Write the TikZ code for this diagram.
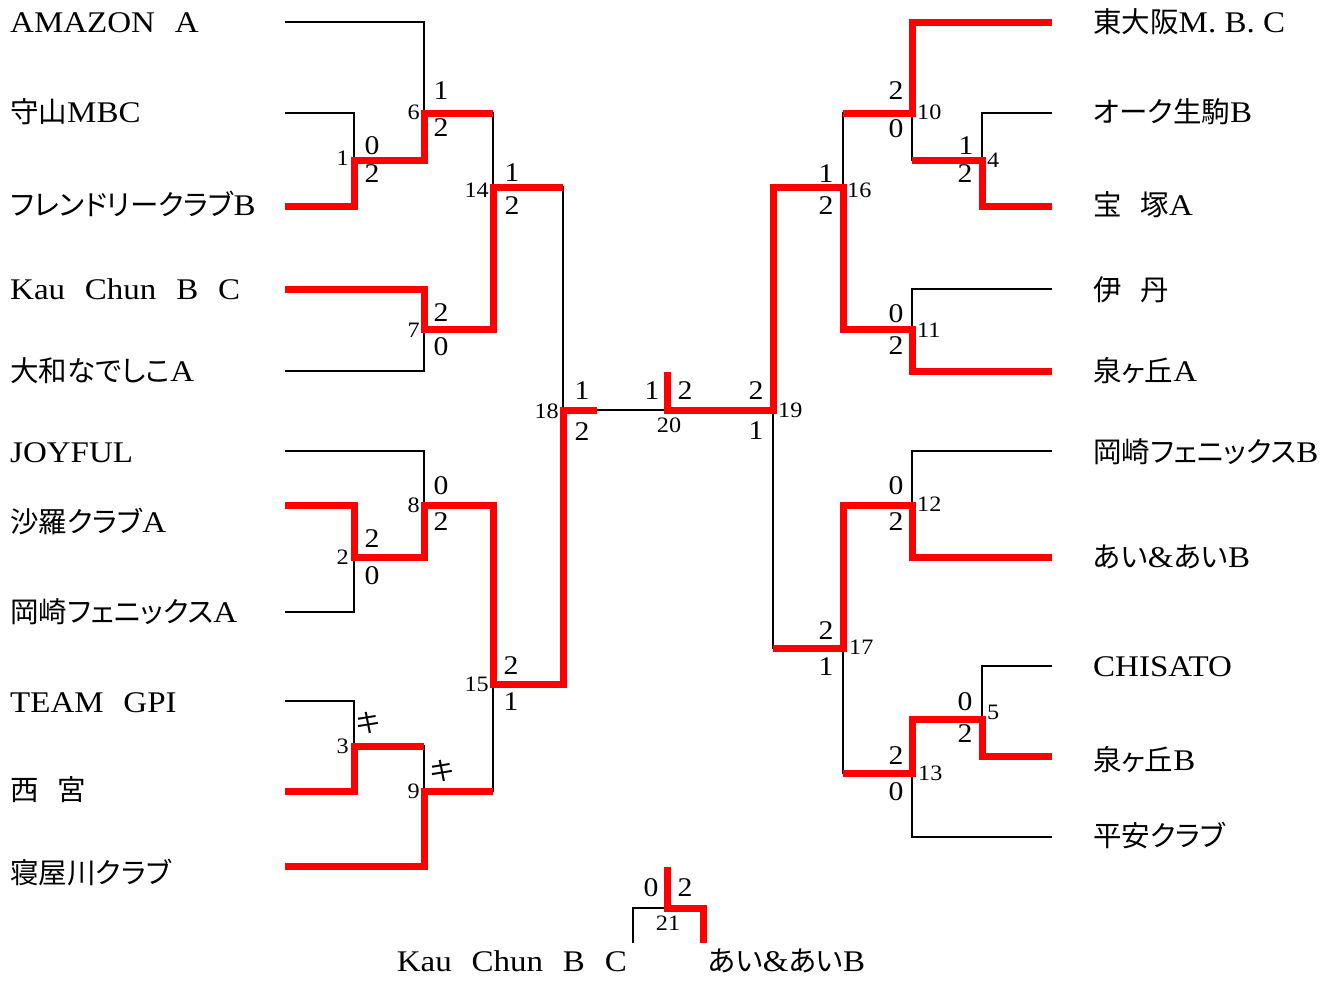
\documentclass[tikz,border=0pt]{standalone}
\usepackage{fontspec}
\setmainfont{Liberation Serif}[FakeStretch=1.1]
\newfontfamily\jp{Noto Sans CJK JP}[Scale=0.95,RawFeature=+palt]
\newcommand{\gp}{\hspace{0.66em}}
\begin{document}
\begin{tikzpicture}[x=1pt,y=-1pt,
  team/.style={font=\fontsize{30}{30}\selectfont, inner sep=0pt},
  score/.style={font=\fontsize{27}{27}\selectfont, inner sep=0pt},
  mno/.style={font=\fontsize{22}{22}\selectfont, inner sep=0pt},
  thin/.style={line width=2.4pt, black},
  win/.style={line width=7pt, red, line join=miter}]
\useasboundingbox (0,0) rectangle (1329,980);
% ---------- coordinates ----------
% left team line starts
\coordinate (aL1) at (285,22);
\coordinate (aL2) at (285,113);
\coordinate (aL3) at (285,206);
\coordinate (aL4) at (285,289);
\coordinate (aL5) at (285,371);
\coordinate (aL6) at (285,451);
\coordinate (aL7) at (285,505);
\coordinate (aL8) at (285,612);
\coordinate (aL9) at (285,701);
\coordinate (aL10) at (285,791);
\coordinate (aL11) at (285,866);
% right team line ends
\coordinate (aR1) at (1052,22);
\coordinate (aR2) at (1052,113);
\coordinate (aR3) at (1052,206);
\coordinate (aR4) at (1052,289);
\coordinate (aR5) at (1052,371);
\coordinate (aR6) at (1052,451);
\coordinate (aR7) at (1052,557);
\coordinate (aR8) at (1052,666);
\coordinate (aR9) at (1052,756);
\coordinate (aR10) at (1052,837);
% match junctions
\coordinate (m1) at (354,160);
\coordinate (m6) at (424,113);
\coordinate (m7) at (424,329);
\coordinate (m14) at (493,187);
\coordinate (m2) at (354,557);
\coordinate (m8) at (424,505);
\coordinate (m3) at (354,746);
\coordinate (m9) at (424,791);
\coordinate (m15) at (493,684);
\coordinate (m18) at (563,410);
\coordinate (c18) at (597,410);
\coordinate (m20) at (667,410);
\coordinate (c20) at (667,372);
\coordinate (m4) at (982,160);
\coordinate (m10) at (912,113);
\coordinate (m11) at (912,329);
\coordinate (m16) at (843,187);
\coordinate (m5) at (982,719);
\coordinate (m12) at (912,505);
\coordinate (m13) at (912,773);
\coordinate (m17) at (843,648);
\coordinate (m19) at (773,410);
\coordinate (m21) at (667,908);
\coordinate (c21) at (667,867);
\coordinate (b21L) at (633,943);
\coordinate (b21R) at (703,943);
% ---------- black lines ----------
\draw[thin] (aL1) -| (m6);
\draw[thin] (aL2) -| (m1);
\draw[thin] (aL5) -| (m7);
\draw[thin] (aL6) -| (m8);
\draw[thin] (aL8) -| (m2);
\draw[thin] (aL9) -| (m3);
\draw[thin] (m3) -| (m9);
\draw[thin] (m6) -| (m14);
\draw[thin] (m14) -| (m18);
\draw[thin] (m9) -| (m15);
\draw[thin] (m18) -- (m20);
\draw[thin] (aR2) -| (m4);
\draw[thin] (m4) -| (m10);
\draw[thin] (m10) -| (m16);
\draw[thin] (aR4) -| (m11);
\draw[thin] (aR6) -| (m12);
\draw[thin] (aR8) -| (m5);
\draw[thin] (aR10) -| (m13);
\draw[thin] (m13) -| (m17);
\draw[thin] (m17) -| (m19);
\draw[thin] (b21L) |- (m21);
% ---------- red (winner) lines ----------
\draw[win] (aL3) -| (m1) -| (m6) -- (m6 -| m14);
\draw[win] (aL4) -| (m7) -| (m14) -- (m14 -| m18);
\draw[win] (aL7) -| (m2) -| (m8) -| (m15) -| (m18) -- (c18);
\draw[win] (aL10) -| (m3) -- (m3 -| m9);
\draw[win] (aL11) -| (m9) -- (m9 -| m15);
\draw[win] (aR5) -| (m11) -| (m16) -| (m19) -- (m20) -- (c20);
\draw[win] (aR1) -| (m10) -- (m10 -| m16);
\draw[win] (aR3) -| (m4) -- (m4 -| m10);
\draw[win] (aR7) -| (m12) -| (m17) -- (m17 -| m19);
\draw[win] (aR9) -| (m5) -| (m13) -- (m13 -| m17);
\draw[win] (b21R) |- (m21) -- (c21);
% ---------- team names ----------
\node[team, anchor=base west] (tL1) at (10,32) {AMAZON\gp A};
\node[team, anchor=base west] (tL2) at (10,122) {{\jp 守山}MBC};
\node[team, anchor=base west] (tL3) at (10,215) {{\jp フレンドリークラブ}B};
\node[team, anchor=base west] (tL4) at (10,299) {Kau\gp Chun\gp B\gp C};
\node[team, anchor=base west] (tL5) at (10,381) {{\jp 大和なでしこ}A};
\node[team, anchor=base west] (tL6) at (10,462) {JOYFUL};
\node[team, anchor=base west] (tL7) at (10,532) {{\jp 沙羅クラブ}A};
\node[team, anchor=base west] (tL8) at (10,622) {{\jp 岡崎フェニックス}A};
\node[team, anchor=base west] (tL9) at (10,712) {TEAM\gp GPI};
\node[team, anchor=base west] (tL10) at (10,800) {{\jp 西\gp 宮}};
\node[team, anchor=base west] (tL11) at (10,883) {{\jp 寝屋川クラブ}};
\node[team, anchor=base west] (tR1) at (1093,32) {{\jp 東大阪}M.\ B.\ C};
\node[team, anchor=base west] (tR2) at (1093,122) {{\jp オーク生駒}B};
\node[team, anchor=base west] (tR3) at (1093,215) {{\jp 宝\gp 塚}A};
\node[team, anchor=base west] (tR4) at (1093,300) {{\jp 伊\gp 丹}};
\node[team, anchor=base west] (tR5) at (1093,381) {{\jp 泉ヶ丘}A};
\node[team, anchor=base west] (tR6) at (1093,462) {{\jp 岡崎フェニックス}B};
\node[team, anchor=base west] (tR7) at (1093,567) {{\jp あい}\&{\jp あい}B};
\node[team, anchor=base west] (tR8) at (1093,676) {CHISATO};
\node[team, anchor=base west] (tR9) at (1093,770) {{\jp 泉ヶ丘}B};
\node[team, anchor=base west] (tR10) at (1093,846) {{\jp 平安クラブ}};
\node[team, anchor=base east] (tB1) at (627,971) {Kau\gp Chun\gp B\gp C};
\node[team, anchor=base west] (tB2) at (708,971) {{\jp あい}\&{\jp あい}B};
% ---------- scores ----------
\node[score] (s1a) at (372,146) {0};
\node[score] (s1b) at (372,174) {2};
\node[score] (s6a) at (441,91) {1};
\node[score] (s6b) at (441,128) {2};
\node[score] (s7a) at (441,313) {2};
\node[score] (s7b) at (441,347) {0};
\node[score] (s14a) at (512,173) {1};
\node[score] (s14b) at (512,206) {2};
\node[score] (s18a) at (582,391) {1};
\node[score] (s18b) at (582,432) {2};
\node[score] (s8a) at (441,486) {0};
\node[score] (s8b) at (441,522) {2};
\node[score] (s2a) at (372,539) {2};
\node[score] (s2b) at (372,576) {0};
\node[score] (s3a) at (368,723) {\jp キ};
\node[score] (s9a) at (442,771) {\jp キ};
\node[score] (s15a) at (511,666) {2};
\node[score] (s15b) at (511,702) {1};
\node[score] (s20a) at (652,391) {1};
\node[score] (s20b) at (685,391) {2};
\node[score] (s19a) at (756,391) {2};
\node[score] (s19b) at (756,431) {1};
\node[score] (s16a) at (826,174) {1};
\node[score] (s16b) at (826,206) {2};
\node[score] (s10a) at (896,91) {2};
\node[score] (s10b) at (896,129) {0};
\node[score] (s4a) at (966,146) {1};
\node[score] (s4b) at (965,174) {2};
\node[score] (s11a) at (896,314) {0};
\node[score] (s11b) at (896,346) {2};
\node[score] (s12a) at (896,486) {0};
\node[score] (s12b) at (896,522) {2};
\node[score] (s17a) at (826,631) {2};
\node[score] (s17b) at (826,667) {1};
\node[score] (s5a) at (965,702) {0};
\node[score] (s5b) at (965,734) {2};
\node[score] (s13a) at (896,756) {2};
\node[score] (s13b) at (896,792) {0};
\node[score] (s21a) at (651,888) {0};
\node[score] (s21b) at (685,888) {2};
% ---------- match numbers ----------
\node[mno, anchor=east] (n1) at (349,158) {1};
\node[mno, anchor=east] (n6) at (420,112) {6};
\node[mno, anchor=east] (n7) at (420,330) {7};
\node[mno, anchor=east] (n14) at (489,190) {14};
\node[mno, anchor=east] (n18) at (559,411) {18};
\node[mno, anchor=east] (n2) at (349,557) {2};
\node[mno, anchor=east] (n8) at (420,505) {8};
\node[mno, anchor=east] (n3) at (349,746) {3};
\node[mno, anchor=east] (n9) at (420,791) {9};
\node[mno, anchor=east] (n15) at (489,684) {15};
\node[mno] (n20) at (669,425) {20};
\node[mno, anchor=west] (n19) at (778,410) {19};
\node[mno, anchor=west] (n16) at (847,190) {16};
\node[mno, anchor=west] (n10) at (917,112) {10};
\node[mno, anchor=west] (n4) at (987,160) {4};
\node[mno, anchor=west] (n11) at (917,330) {11};
\node[mno, anchor=west] (n12) at (917,504) {12};
\node[mno, anchor=west] (n17) at (849,647) {17};
\node[mno, anchor=west] (n5) at (987,712) {5};
\node[mno, anchor=west] (n13) at (918,773) {13};
\node[mno] (n21) at (668,923) {21};
\end{tikzpicture}
\end{document}
